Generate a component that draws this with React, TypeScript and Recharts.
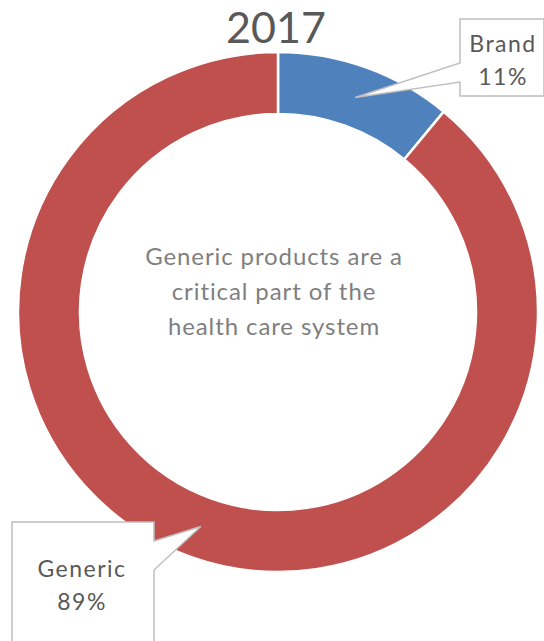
import React from 'react'
import { PieChart, Pie, Cell } from 'recharts'

const categories = ['Brand', 'Generic']
const shares = [11, 89]
const chartTitle = '2017'
const centerLines = ['Generic products are a', 'critical part of the', 'health care system']

const colors = ['#4F81BD', '#C0504D']
const font = 'Lato, "Open Sans", sans-serif'

const data = categories.map((name, i) => ({ name, value: shares[i] }))

// callout boxes, positioned relative to the chart
const callouts = [
  { x: 460, y: 19, w: 84, h: 77, side: 'left', p1: 44, p2: 63, tx: 503, ty: [52, 85] },
  { x: 12, y: 522, w: 142, h: 130, side: 'right', p1: 19, p2: 48, tx: 82, ty: [577, 610] },
]

const RADIAN = Math.PI / 180

function renderCallout(props: any) {
  const { cx, cy, midAngle, innerRadius, outerRadius, index, name, value } = props
  const c = callouts[index]
  const r = (innerRadius + outerRadius) / 2 - 1
  const tipX = cx + r * Math.cos(-midAngle * RADIAN)
  const tipY = cy + r * Math.sin(-midAngle * RADIAN)
  const { x, y, w, h } = c
  let d = ''
  if (c.side === 'left') {
    d = `M${x},${y} L${x + w},${y} L${x + w},${y + h} L${x},${y + h} L${x},${y + c.p2} L${tipX},${tipY} L${x},${y + c.p1} Z`
  } else {
    d = `M${x},${y} L${x + w},${y} L${x + w},${y + c.p1} L${tipX},${tipY} L${x + w},${y + c.p2} L${x + w},${y + h} L${x},${y + h} Z`
  }
  return (
    <g key={`callout-${index}`}>
      <path d={d} fill="#fff" stroke="#BFBFBF" strokeWidth={1.5} />
      <text x={c.tx} y={c.ty[0]} textAnchor="middle" fill="#595959" fontSize={23} fontFamily={font} letterSpacing={1.5}>
        {name}
      </text>
      <text x={c.tx} y={c.ty[1]} textAnchor="middle" fill="#595959" fontSize={23} fontFamily={font} letterSpacing={1.5}>
        {value}%
      </text>
    </g>
  )
}

export default function App() {
  return (
    <div style={{ position: 'absolute', left: 0, top: 0, background: '#fff' }}>
      <PieChart width={544} height={641} margin={{ top: 0, right: 0, bottom: 0, left: 0 }}>
        <Pie
          data={data}
          dataKey="value"
          nameKey="name"
          cx={278}
          cy={312}
          innerRadius={198}
          outerRadius={260}
          startAngle={90}
          endAngle={-270}
          stroke="#fff"
          strokeWidth={2.5}
          label={renderCallout}
          labelLine={false}
          isAnimationActive={false}
        >
          {data.map((d, i) => (
            <Cell key={d.name} fill={colors[i]} />
          ))}
        </Pie>
        <text x={276} y={43} textAnchor="middle" fill="#595959" fontSize={43} fontFamily={font}>
          {chartTitle}
        </text>
        {centerLines.map((line, i) => (
          <text key={line} x={274} y={265 + i * 35} textAnchor="middle" fill="#7F7F7F" fontSize={24} fontFamily={font} letterSpacing={0.9}>
            {line}
          </text>
        ))}
      </PieChart>
    </div>
  )
}
